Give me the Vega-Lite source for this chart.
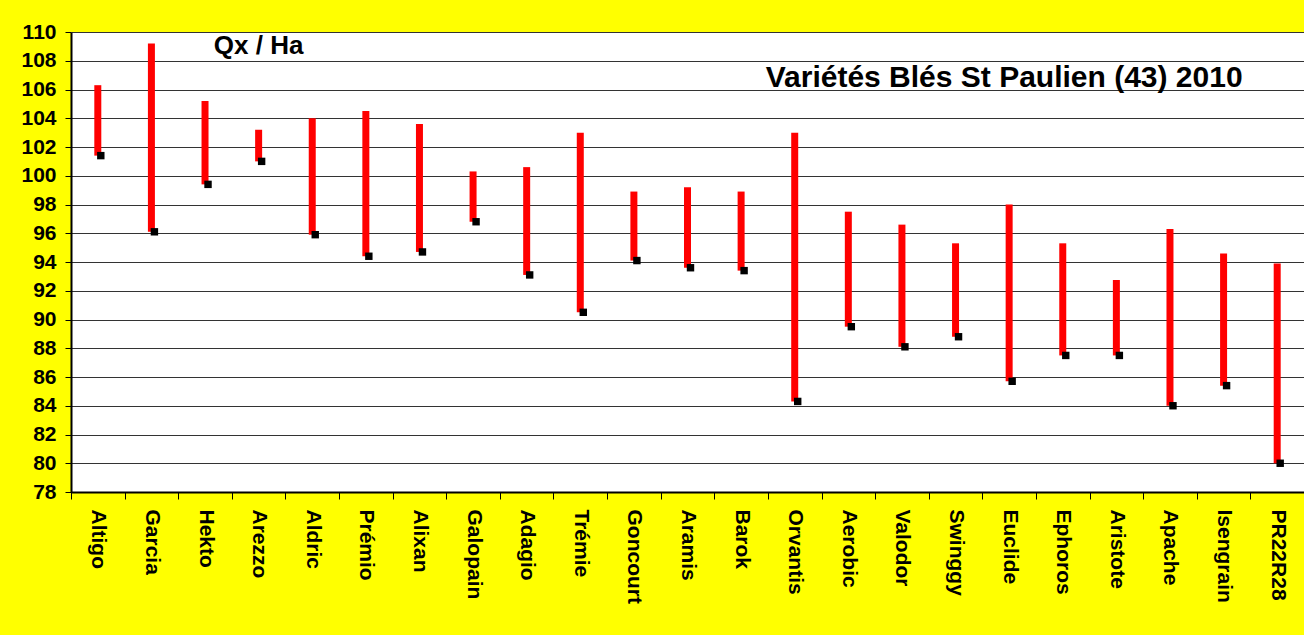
{
  "$schema": "https://vega.github.io/schema/vega-lite/v6.json",
  "width": 1233,
  "height": 460,
  "autosize": {"type": "none"},
  "padding": {"left": 71, "top": 32, "right": 0, "bottom": 143},
  "background": "#FFFF00",
  "config": {
    "font": "Liberation Sans",
    "view": {"fill": "#FFFFFF", "stroke": null},
    "axisY": {
      "title": null,
      "labelOverlap": false,
      "labelFont": "Liberation Sans",
      "labelFontSize": 21,
      "labelFontWeight": "bold",
      "labelColor": "#000000",
      "labelPadding": 9,
      "tickColor": "#000000",
      "tickSize": 6,
      "domainColor": "#000000",
      "domainWidth": 2,
      "gridColor": "#333333",
      "gridOpacity": 1,
      "gridWidth": 1
    }
  },
  "data": {
    "values": [
      {"variety": "Altigo", "high": 106.3, "low": 101.4},
      {"variety": "Garcia", "high": 109.2, "low": 96.1},
      {"variety": "Hekto", "high": 105.2, "low": 99.4},
      {"variety": "Arezzo", "high": 103.2, "low": 101.0},
      {"variety": "Aldric", "high": 104.0, "low": 95.9},
      {"variety": "Prémio", "high": 104.5, "low": 94.4},
      {"variety": "Alixan", "high": 103.6, "low": 94.7},
      {"variety": "Galopain", "high": 100.3, "low": 96.8},
      {"variety": "Adagio", "high": 100.6, "low": 93.1},
      {"variety": "Trémie", "high": 103.0, "low": 90.5},
      {"variety": "Goncourt", "high": 98.9, "low": 94.1},
      {"variety": "Aramis", "high": 99.2, "low": 93.6},
      {"variety": "Barok", "high": 98.9, "low": 93.4},
      {"variety": "Orvantis", "high": 103.0, "low": 84.3},
      {"variety": "Aerobic", "high": 97.5, "low": 89.5},
      {"variety": "Valodor", "high": 96.6, "low": 88.1},
      {"variety": "Swinggy", "high": 95.3, "low": 88.8},
      {"variety": "Euclide", "high": 98.0, "low": 85.7},
      {"variety": "Ephoros", "high": 95.3, "low": 87.5},
      {"variety": "Aristote", "high": 92.75, "low": 87.5},
      {"variety": "Apache", "high": 96.3, "low": 84.0},
      {"variety": "Isengrain", "high": 94.6, "low": 85.4},
      {"variety": "PR22R28", "high": 93.9, "low": 80.0}
    ]
  },
  "encoding": {
    "x": {
      "field": "variety",
      "type": "nominal",
      "sort": null,
      "scale": {"paddingInner": 0, "paddingOuter": 0},
      "axis": {
        "title": null,
        "labelAngle": 90,
        "labelFont": "Liberation Sans",
        "labelFontSize": 21,
        "labelFontWeight": "bold",
        "labelColor": "#000000",
        "labelPadding": 10,
        "tickBand": "extent",
        "tickColor": "#000000",
        "tickSize": 7,
        "tickWidth": 1,
        "domainColor": "#000000",
        "domainWidth": 2,
        "grid": false
      }
    }
  },
  "layer": [
    {
      "mark": {"type": "bar", "color": "#FF0000", "width": 7},
      "encoding": {
        "y": {
          "field": "high",
          "type": "quantitative",
          "scale": {"domain": [78, 110], "nice": false, "zero": false},
          "axis": {"values": [78, 80, 82, 84, 86, 88, 90, 92, 94, 96, 98, 100, 102, 104, 106, 108, 110]}
        },
        "y2": {"field": "low"}
      }
    },
    {
      "mark": {"type": "square", "color": "#000000", "size": 55, "opacity": 1, "xOffset": 3},
      "encoding": {
        "y": {
          "field": "low",
          "type": "quantitative",
          "axis": {"values": [78, 80, 82, 84, 86, 88, 90, 92, 94, 96, 98, 100, 102, 104, 106, 108, 110]}
        }
      }
    },
    {
      "data": {
        "values": [
          {"variety": "Arezzo", "value": 109.0, "label": "Qx / Ha"}
        ]
      },
      "mark": {"type": "text", "fontSize": 26, "fontWeight": "bold", "color": "#000000", "baseline": "middle", "align": "center"},
      "encoding": {
        "y": {
          "field": "value",
          "type": "quantitative",
          "axis": {"values": [78, 80, 82, 84, 86, 88, 90, 92, 94, 96, 98, 100, 102, 104, 106, 108, 110]}
        },
        "text": {"field": "label"}
      }
    },
    {
      "data": {
        "values": [
          {"variety": "Euclide", "value": 106.8, "label": "Variétés Blés St Paulien (43) 2010"}
        ]
      },
      "mark": {"type": "text", "fontSize": 30, "fontWeight": "bold", "color": "#000000", "baseline": "middle", "align": "center", "dx": -5},
      "encoding": {
        "y": {
          "field": "value",
          "type": "quantitative",
          "axis": {"values": [78, 80, 82, 84, 86, 88, 90, 92, 94, 96, 98, 100, 102, 104, 106, 108, 110]}
        },
        "text": {"field": "label"}
      }
    }
  ]
}
